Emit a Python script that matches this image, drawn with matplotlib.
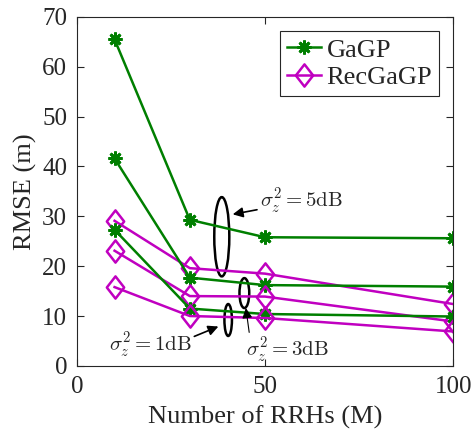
import numpy as np
import matplotlib
matplotlib.use('Agg')
import matplotlib.pyplot as plt
from matplotlib.patches import Ellipse
from matplotlib.path import Path

plt.rcParams['font.family'] = ['Liberation Serif', 'DejaVu Serif']
plt.rcParams['mathtext.fontset'] = 'cm'
plt.rcParams['text.color'] = '#262626'
plt.rcParams['xtick.color'] = '#262626'
plt.rcParams['ytick.color'] = '#262626'
plt.rcParams['axes.labelcolor'] = '#262626'

# number of RRHs
M = [10, 30, 50, 100]

# RMSE (m), one list per noise level
gagp_5db = [65.5, 29.3, 25.8, 25.6]
gagp_3db = [41.6, 17.7, 16.2, 15.9]
gagp_1db = [27.3, 11.5, 10.4, 9.9]
rec_5db = [29.1, 19.6, 18.5, 12.4]
rec_3db = [23.1, 14.0, 13.9, 8.9]
rec_1db = [15.8, 10.0, 9.6, 6.9]

green = '#007f00'
mag = '#c000c0'

# matlab-style diamond, a bit taller than wide
diamond = Path([(0, 1), (0.78, 0), (0, -1), (-0.78, 0), (0, 1)],
               [Path.MOVETO, Path.LINETO, Path.LINETO, Path.LINETO, Path.CLOSEPOLY])

fig = plt.figure(figsize=(4.75, 4.34), dpi=100)
ax = fig.add_axes([0.162, 0.157, 0.792, 0.804])

kw_g = dict(color=green, lw=1.8, marker=(8, 2, 0), ms=10, mew=2)
kw_m = dict(color=mag, lw=1.8, marker=diamond, ms=16, mfc='none', mew=1.8)

ax.plot(M, gagp_5db, label='GaGP', **kw_g)
ax.plot(M, rec_5db, label='RecGaGP', **kw_m)
ax.plot(M, gagp_3db, **kw_g)
ax.plot(M, rec_3db, **kw_m)
ax.plot(M, gagp_1db, **kw_g)
ax.plot(M, rec_1db, **kw_m)

# ellipses marking the noise groups
ax.add_patch(Ellipse((38.5, 25.9), 4.0, 15.9, fill=False, lw=1.8, color='k'))
ax.add_patch(Ellipse((44.5, 14.6), 2.6, 6.0, fill=False, lw=1.8, color='k'))
ax.add_patch(Ellipse((40.2, 9.2), 2.0, 6.4, fill=False, lw=1.8, color='k'))

ax.annotate(r'$\sigma_z^2=5\mathrm{dB}$', xy=(41.4, 30.4), xytext=(48.6, 33),
            fontsize=15, va='center', ha='left',
            arrowprops=dict(arrowstyle='-|>', color='k', lw=1.2, shrinkA=0, shrinkB=0))
ax.annotate(r'$\sigma_z^2=1\mathrm{dB}$', xy=(37.6, 7.9), xytext=(8.4, 4.2),
            fontsize=15, va='center', ha='left',
            arrowprops=dict(arrowstyle='-|>', color='k', lw=1.2, shrinkA=0, shrinkB=0,
                            relpos=(1.0, 0.75)))
ax.annotate(r'$\sigma_z^2=3\mathrm{dB}$', xy=(44.9, 11.6), xytext=(45.0, 3.2),
            fontsize=15, va='center', ha='left',
            arrowprops=dict(arrowstyle='-|>', color='k', lw=0.8, shrinkA=0, shrinkB=0,
                            relpos=(0.05, 0.8)))

ax.set_xlim(0, 100)
ax.set_ylim(0, 70)
ax.set_xticks([0, 50, 100])
ax.set_yticks(range(0, 71, 10))
ax.tick_params(direction='in', top=True, right=True, labelsize=18, length=5, pad=7)
for s in ax.spines.values():
    s.set_linewidth(0.8)
    s.set_color('#262626')
ax.set_xlabel('Number of RRHs (M)', fontsize=19, labelpad=6)
ax.set_ylabel('RMSE (m)', fontsize=19, labelpad=4)

leg = ax.legend(loc='upper right', fontsize=19, fancybox=False, edgecolor='#262626',
                handlelength=1.3, handletextpad=0.2, borderpad=0.25,
                labelspacing=0.15, borderaxespad=0.55, framealpha=1)
leg.get_frame().set_linewidth(0.8)

fig.savefig('out.png', dpi=100)
